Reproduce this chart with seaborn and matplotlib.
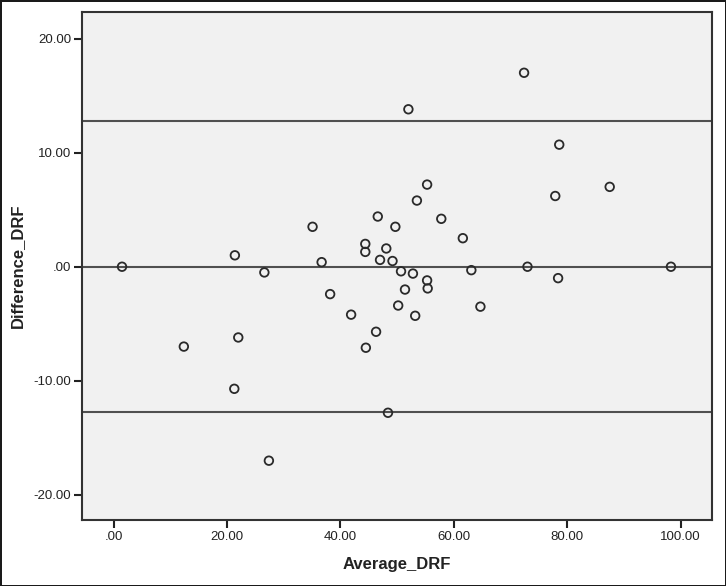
import numpy as np
import pandas as pd
import matplotlib
matplotlib.use("Agg")
import matplotlib.pyplot as plt
from matplotlib.ticker import FuncFormatter
import seaborn as sns

# Bland-Altman style data
average_drf = [1.5, 12.4, 21.4, 21.3, 22.0, 26.6, 27.4, 35.1, 36.7, 38.2,
               41.9, 44.4, 44.4, 44.5, 46.3, 46.6, 47.0, 48.1, 48.4, 49.2,
               49.7, 50.2, 50.7, 51.4, 52.0, 52.8, 53.2, 53.5, 55.3, 55.3,
               55.4, 57.8, 61.6, 63.1, 64.7, 72.4, 73.0, 77.9, 78.4, 78.6,
               87.5, 98.3]
difference_drf = [0.0, -7.0, 1.0, -10.7, -6.2, -0.5, -17.0, 3.5, 0.4, -2.4,
                  -4.2, 2.0, 1.3, -7.1, -5.7, 4.4, 0.6, 1.6, -12.8, 0.5,
                  3.5, -3.4, -0.4, -2.0, 13.8, -0.6, -4.3, 5.8, 7.2, -1.2,
                  -1.9, 4.2, 2.5, -0.3, -3.5, 17.0, 0.0, 6.2, -1.0, 10.7,
                  7.0, 0.0]
mean_diff = 0.0
limits_of_agreement = [12.75, -12.7]
x_ticks = [0, 20, 40, 60, 80, 100]
y_ticks = [-20, -10, 0, 10, 20]

df = pd.DataFrame({"Average_DRF": average_drf, "Difference_DRF": difference_drf})

sns.set_style("white")
plt.rcParams["font.family"] = ["Liberation Sans", "DejaVu Sans"]

fig = plt.figure(figsize=(7.26, 5.86), dpi=100)
fig.patch.set_facecolor("white")
fig.patch.set_edgecolor("#1a1a1a")
fig.patch.set_linewidth(2)
ax = fig.add_axes([0.1134, 0.1126, 0.867, 0.8664])
ax.set_facecolor("#f1f1f1")

for y in [mean_diff] + limits_of_agreement:
    ax.axhline(y, color="#505050", linewidth=1.5, zorder=1)

sns.scatterplot(data=df, x="Average_DRF", y="Difference_DRF", ax=ax,
                marker="o", s=38, linewidth=1.3, zorder=3)
coll = ax.collections[-1]
coll.set_facecolor("none")
coll.set_edgecolor("#2a2a2a")

ax.set_xlim(-5.5, 105.5)
ax.set_ylim(-22.2, 22.3)
ax.set_xticks(x_ticks)
ax.set_yticks(y_ticks)


def spss_fmt(v, pos):
    s = f"{v:.2f}"
    if s.startswith("0."):
        s = s[1:]
    elif s == "-0.00":
        s = ".00"
    return s


ax.xaxis.set_major_formatter(FuncFormatter(spss_fmt))
ax.yaxis.set_major_formatter(FuncFormatter(spss_fmt))
ax.tick_params(axis="both", direction="out", length=6, width=1.5,
               color="#222222", labelsize=9.5, labelcolor="#222222", pad=2,
               bottom=True, left=True)
for side in ["left", "bottom", "right", "top"]:
    ax.spines[side].set_color("#333333")
    ax.spines[side].set_linewidth(1.5)

ax.set_xlabel("Average_DRF", fontsize=12, fontweight="bold", color="#222222", labelpad=10)
ax.set_ylabel("Difference_DRF", fontsize=12, fontweight="bold", color="#222222", labelpad=6)

fig.savefig("out.png", dpi=100, facecolor=fig.get_facecolor(), edgecolor=fig.get_edgecolor())
